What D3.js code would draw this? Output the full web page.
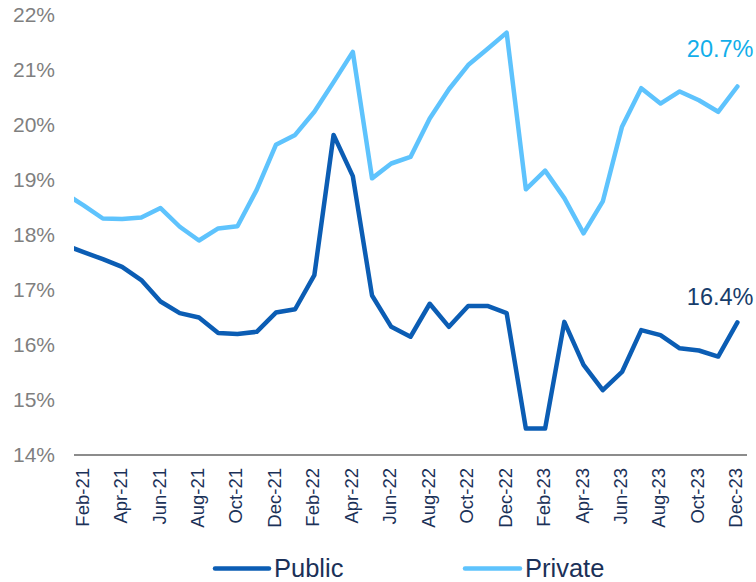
<!DOCTYPE html>
<html>
<head>
<meta charset="utf-8">
<script src="https://cdn.jsdelivr.net/npm/d3@7"></script>
<style>
  html, body { margin: 0; padding: 0; background: #fff; }
  svg { display: block; font-family: "Liberation Sans", Arial, sans-serif; }
</style>
</head>
<body>
<svg id="chart" width="756" height="582"></svg>
<script>
// Months (Jan-21 is only partly visible at the left edge of the plot)
const months = ["Jan-21","Feb-21","Mar-21","Apr-21","May-21","Jun-21","Jul-21","Aug-21","Sep-21","Oct-21","Nov-21","Dec-21",
  "Jan-22","Feb-22","Mar-22","Apr-22","May-22","Jun-22","Jul-22","Aug-22","Sep-22","Oct-22","Nov-22","Dec-22",
  "Jan-23","Feb-23","Mar-23","Apr-23","May-23","Jun-23","Jul-23","Aug-23","Sep-23","Oct-23","Nov-23","Dec-23"];
const tickLabels = ["Feb-21","Apr-21","Jun-21","Aug-21","Oct-21","Dec-21","Feb-22","Apr-22","Jun-22","Aug-22","Oct-22","Dec-22",
  "Feb-23","Apr-23","Jun-23","Aug-23","Oct-23","Dec-23"];
const publicValues = [17.82,17.69,17.56,17.42,17.18,16.79,16.58,16.50,16.22,16.20,16.24,16.59,
  16.65,17.27,19.82,19.07,16.90,16.33,16.15,16.75,16.33,16.71,16.71,16.58,
  14.48,14.48,16.42,15.64,15.18,15.51,16.27,16.18,15.94,15.90,15.79,16.41];
const privateValues = [18.76,18.54,18.30,18.29,18.32,18.49,18.15,17.90,18.12,18.16,18.82,19.64,
  19.82,20.24,20.78,21.33,19.03,19.30,19.42,20.12,20.65,21.09,21.38,21.68,
  18.83,19.17,18.67,18.03,18.61,19.97,20.67,20.39,20.61,20.45,20.24,20.70];
const yTicks = [14,15,16,17,18,19,20,21,22];
const seriesNames = ["Public","Private"];
const endLabels = ["16.4%","20.7%"];

const colors = { Public: "#0b5db4", Private: "#5ec3fd" };
const labelColors = { Public: "#173d6b", Private: "#12aeea" };

const svg = d3.select("#chart");
const plotLeft = 74, plotRight = 747, plotTop = 15, plotBottom = 455;

const x = d3.scaleBand()
  .domain(months)
  .range([plotLeft - (plotRight - plotLeft) / (months.length - 1), plotRight])
  .padding(0);
const cx = m => x(m) + x.bandwidth() / 2;
const y = d3.scaleLinear().domain([14, 22]).range([plotBottom, plotTop]);

// clip for the plot area
svg.append("defs").append("clipPath").attr("id", "plotclip")
  .append("rect").attr("x", plotLeft).attr("y", 0)
  .attr("width", plotRight - plotLeft).attr("height", plotBottom);

// y tick labels
svg.append("g").selectAll("text").data(yTicks).join("text")
  .attr("x", 55).attr("y", d => y(d))
  .attr("dy", "0.35em")
  .attr("text-anchor", "end")
  .attr("font-size", 21)
  .attr("fill", "#7f7f7f")
  .text(d => d + "%");

// x axis line
svg.append("line")
  .attr("x1", plotLeft).attr("x2", plotRight)
  .attr("y1", y(14)).attr("y2", y(14))
  .attr("stroke", "#8c8c8c").attr("stroke-width", 2);

// x tick labels (rotated)
svg.append("g").selectAll("text").data(tickLabels).join("text")
  .attr("transform", d => `translate(${cx(d)},${plotBottom + 13}) rotate(-90)`)
  .attr("dy", "0.27em")
  .attr("text-anchor", "end")
  .attr("font-size", 18.5)
  .attr("fill", "#1b3158")
  .text(d => d);

// lines
const series = [
  { name: "Public", values: publicValues },
  { name: "Private", values: privateValues }
];
const line = d3.line().x((d, i) => cx(months[i])).y(d => y(d));
svg.append("g").attr("clip-path", "url(#plotclip)")
  .selectAll("path").data(series).join("path")
  .attr("d", s => line(s.values))
  .attr("fill", "none")
  .attr("stroke", s => colors[s.name])
  .attr("stroke-width", 4.5)
  .attr("stroke-linejoin", "round")
  .attr("stroke-linecap", "round");

// end labels
svg.append("text")
  .attr("x", 753.5).attr("y", 305)
  .attr("text-anchor", "end").attr("font-size", 23.5)
  .attr("fill", labelColors.Public).text(endLabels[0]);
svg.append("text")
  .attr("x", 753.5).attr("y", 57.3)
  .attr("text-anchor", "end").attr("font-size", 23.5)
  .attr("fill", labelColors.Private).text(endLabels[1]);

// legend
const legendItems = [
  { name: "Public", x1: 215, x2: 269, tx: 274 },
  { name: "Private", x1: 465, x2: 520, tx: 525 }
];
const lg = svg.append("g");
legendItems.forEach(it => {
  lg.append("line").attr("x1", it.x1).attr("x2", it.x2)
    .attr("y1", 568.5).attr("y2", 568.5)
    .attr("stroke", colors[it.name]).attr("stroke-width", 4.5)
    .attr("stroke-linecap", "round");
  lg.append("text").attr("x", it.tx).attr("y", 576.5)
    .attr("font-size", 25.5).attr("fill", "#1b3158")
    .text(it.name);
});
</script>
</body>
</html>
